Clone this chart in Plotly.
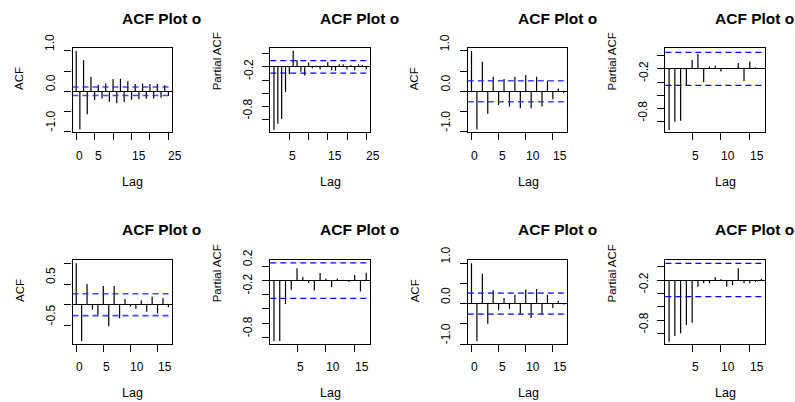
import plotly.graph_objects as go

FONT = "Liberation Sans, Arial, Helvetica, sans-serif"
FIG_W, FIG_H = 795, 402

# ---------------- data ----------------
lags_acf_long = [0, 1, 2, 3, 4, 5, 6, 7, 8, 9, 10, 11, 12, 13, 14, 15, 16, 17, 18, 19, 20, 21, 22, 23, 24, 25]
lags_pacf_long = [1, 2, 3, 4, 5, 6, 7, 8, 9, 10, 11, 12, 13, 14, 15, 16, 17, 18, 19, 20, 21, 22, 23, 24, 25]
lags_acf_short = [0, 1, 2, 3, 4, 5, 6, 7, 8, 9, 10, 11, 12, 13, 14, 15, 16, 17]
lags_pacf_short = [1, 2, 3, 4, 5, 6, 7, 8, 9, 10, 11, 12, 13, 14, 15, 16, 17]

acf_1 = [1.0, -0.95, 0.77, -0.57, 0.36, -0.22, 0.16, -0.18, 0.19, -0.26, 0.30, -0.30, 0.31,
         -0.27, 0.25, -0.21, 0.18, -0.20, 0.19, -0.19, 0.18, -0.18, 0.18, -0.16, 0.15, -0.12]
pacf_2 = [-0.95, -0.86, -0.79, -0.38, -0.11, 0.245, 0.10, -0.075, -0.13, 0.065, -0.02, 0.02, -0.04,
          0.02, 0.075, -0.05, -0.06, 0.04, 0.04, -0.04, 0.03, -0.05, 0.04, 0.03, -0.04]
acf_3 = [1.0, -0.95, 0.73, -0.56, 0.36, -0.34, 0.30, -0.38, 0.36, -0.42, 0.40, -0.42, 0.36,
         -0.38, 0.26, -0.20, 0.07, -0.05]
pacf_4 = [-0.925, -0.80, -0.785, -0.25, 0.135, 0.225, -0.20, 0.035, 0.05, -0.04, 0.01, 0.01,
          0.09, -0.185, 0.11, 0.025, 0.005]
acf_5 = [1.0, -0.88, 0.50, -0.12, -0.25, 0.45, -0.52, 0.45, -0.33, 0.14, -0.05, -0.10, 0.11,
         -0.17, 0.19, -0.21, 0.16, -0.06]
pacf_6 = [-0.85, -0.85, -0.33, -0.13, 0.175, 0.05, -0.03, -0.14, 0.105, 0.03, -0.095, 0.03,
          0.01, -0.015, 0.08, -0.155, 0.11]
acf_7 = [1.0, -0.93, 0.74, -0.50, 0.33, -0.165, 0.14, -0.13, 0.22, -0.27, 0.35, -0.355, 0.36,
         -0.27, 0.22, -0.11, 0.07, -0.02]
pacf_8 = [-0.925, -0.84, -0.80, -0.675, -0.64, -0.10, -0.05, -0.05, 0.04, 0.01, -0.10, -0.08,
          0.175, -0.05, -0.05, -0.03, 0.015]

ci_bounds = [0.105, 0.095, 0.26, 0.25, 0.265, 0.25, 0.26, 0.25]

titles = ["ACF Plot o"] * 8
y_titles = ["ACF", "Partial ACF", "ACF", "Partial ACF", "ACF", "Partial ACF", "ACF", "Partial ACF"]
x_title = "Lag"

xt_1 = [0, 5, 10, 15, 20, 25]
xl_1 = ["0", "5", "", "15", "", "25"]
xt_2 = [5, 10, 15, 20, 25]
xl_2 = ["5", "", "15", "", "25"]
xt_acf = [0, 5, 10, 15]
xl_acf = ["0", "5", "10", "15"]
xt_pacf = [5, 10, 15]
xl_pacf = ["5", "10", "15"]

yt_acf = [-1.0, -0.5, 0.0, 0.5, 1.0]
yl_acf = ["-1.0", "", "0.0", "", "1.0"]
yt_pacf = [-0.8, -0.6, -0.4, -0.2, 0.0, 0.2]
yl_pacf = ["-0.8", "", "", "-0.2", "", ""]
yl_pacf6 = ["-0.8", "", "", "-0.2", "", "0.2"]
yt_acf5 = [-0.5, 0.0, 0.5, 1.0]
yl_acf5 = ["-0.5", "", "0.5", ""]

panels = [
    dict(lags=lags_acf_long, vals=acf_1, xr=[-1.0, 26.0], yr=[-1.02, 1.08], xt=xt_1, xl=xl_1, yt=yt_acf, yl=yl_acf, acf=True),
    dict(lags=lags_pacf_long, vals=pacf_2, xr=[0.04, 25.96], yr=[-0.99, 0.29], xt=xt_2, xl=xl_2, yt=yt_pacf, yl=yl_pacf, acf=False),
    dict(lags=lags_acf_short, vals=acf_3, xr=[-0.68, 17.68], yr=[-1.02, 1.08], xt=xt_acf, xl=xl_acf, yt=yt_acf, yl=yl_acf, acf=True),
    dict(lags=lags_pacf_short, vals=pacf_4, xr=[0.36, 17.64], yr=[-0.96, 0.32], xt=xt_pacf, xl=xl_pacf, yt=yt_pacf, yl=yl_pacf, acf=False),
    dict(lags=lags_acf_short, vals=acf_5, xr=[-0.68, 17.68], yr=[-0.95, 1.08], xt=xt_acf, xl=xl_acf, yt=yt_acf5, yl=yl_acf5, acf=True),
    dict(lags=lags_pacf_short, vals=pacf_6, xr=[0.36, 17.64], yr=[-0.894, 0.29], xt=xt_pacf, xl=xl_pacf, yt=yt_pacf, yl=yl_pacf6, acf=False),
    dict(lags=lags_acf_short, vals=acf_7, xr=[-0.68, 17.68], yr=[-1.0, 1.08], xt=xt_acf, xl=xl_acf, yt=yt_acf, yl=yl_acf, acf=True),
    dict(lags=lags_pacf_short, vals=pacf_8, xr=[0.36, 17.64], yr=[-0.96, 0.30], xt=xt_pacf, xl=xl_pacf, yt=yt_pacf, yl=yl_pacf, acf=False),
]

# ---------------- layout geometry (pixels) ----------------
col_left = [72.5, 270.3, 467.8, 665.4]
plot_w = 99.6
row_top = [47.7, 260.0]
row_bot = [132.3, 344.0]
title_y = [18.3, 230.0]
lag_y = [181.5, 393.3]
xtick_y = [155.5, 367.0]


def px_x(v):
    return v / FIG_W


def px_y(v):
    return 1 - v / FIG_H


fig = go.Figure()
annotations = []
shapes = []
layout_axes = {}

for i, p in enumerate(panels):
    r, c = divmod(i, 4)
    n = i + 1
    xa = "x" if n == 1 else f"x{n}"
    ya = "y" if n == 1 else f"y{n}"
    xname = "xaxis" if n == 1 else f"xaxis{n}"
    yname = "yaxis" if n == 1 else f"yaxis{n}"

    xs, ys = [], []
    for lag, v in zip(p["lags"], p["vals"]):
        xs += [lag, lag, None]
        ys += [0, v, None]
    fig.add_trace(go.Scatter(x=xs, y=ys, mode="lines",
                             line=dict(color="black", width=1.2),
                             xaxis=xa, yaxis=ya, showlegend=False, hoverinfo="skip"))

    x0, x1 = px_x(col_left[c]), px_x(col_left[c] + plot_w)
    y0, y1 = px_y(row_bot[r]), px_y(row_top[r])

    common = dict(showline=True, mirror=True, linecolor="black", linewidth=1.2,
                  ticks="outside", ticklen=7, tickwidth=1.2, tickcolor="black",
                  showticklabels=False, showgrid=False, fixedrange=True)
    layout_axes[xname] = dict(domain=[x0, x1], range=p["xr"], anchor=ya,
                              tickmode="array", tickvals=p["xt"], zeroline=False, **common)
    layout_axes[yname] = dict(domain=[y0, y1], range=p["yr"], anchor=xa,
                              tickmode="array", tickvals=p["yt"], zeroline=True,
                              zerolinecolor="black", zerolinewidth=1.2, **common)

    ci = ci_bounds[i]
    if p["acf"]:
        ci_line = dict(color="rgba(40,40,255,0.85)", width=1.6, dash="6px,4px")
    else:
        ci_line = dict(color="#0000ff", width=1.2, dash="6px,4px")
    for s in (1, -1):
        shapes.append(dict(type="line", xref=f"{xa} domain", yref=ya, x0=0, x1=1,
                           y0=s * ci, y1=s * ci, line=ci_line, layer="above"))

    cx = col_left[c] + plot_w / 2
    cy = (row_top[r] + row_bot[r]) / 2
    # title (left-anchored at the plot centre, as in the reference)
    annotations.append(dict(text=f"<b>{titles[i]}</b>", x=px_x(cx), y=px_y(title_y[r]),
                            xref="paper", yref="paper", xanchor="left", yanchor="middle",
                            showarrow=False, borderpad=0, borderwidth=0,
                            font=dict(family=FONT, size=15.5, color="black")))
    # x axis title
    annotations.append(dict(text=x_title, x=px_x(cx), y=px_y(lag_y[r]),
                            xref="paper", yref="paper", xanchor="left", yanchor="middle",
                            showarrow=False, borderpad=0, borderwidth=0,
                            font=dict(family=FONT, size=12.5, color="black")))
    # y axis title
    annotations.append(dict(text=y_titles[i], x=px_x(col_left[c] - 53), y=px_y(cy),
                            xref="paper", yref="paper", xanchor="center", yanchor="bottom",
                            textangle=-90, showarrow=False, borderpad=0, borderwidth=0,
                            font=dict(family=FONT, size=11.5, color="black")))
    # x tick labels
    for v, lab in zip(p["xt"], p["xl"]):
        if lab:
            annotations.append(dict(text=lab, x=v, xref=xa, y=px_y(xtick_y[r]), yref="paper",
                                    xanchor="left", yanchor="middle", showarrow=False,
                                    borderpad=0, borderwidth=0,
                                    font=dict(family=FONT, size=12, color="black")))
    # y tick labels
    for v, lab in zip(p["yt"], p["yl"]):
        if lab:
            annotations.append(dict(text=lab, x=px_x(col_left[c] - 22), xref="paper", y=v, yref=ya,
                                    xanchor="center", yanchor="bottom", textangle=-90,
                                    showarrow=False, borderpad=0, borderwidth=0,
                                    font=dict(family=FONT, size=12, color="black")))

fig.update_layout(
    width=FIG_W, height=FIG_H, autosize=False,
    margin=dict(l=0, r=0, t=0, b=0),
    paper_bgcolor="white", plot_bgcolor="white",
    font=dict(family=FONT, color="black"),
    showlegend=False,
    annotations=annotations,
    shapes=shapes,
    **layout_axes,
)

fig.write_html("out.html", config={"displayModeBar": False})
